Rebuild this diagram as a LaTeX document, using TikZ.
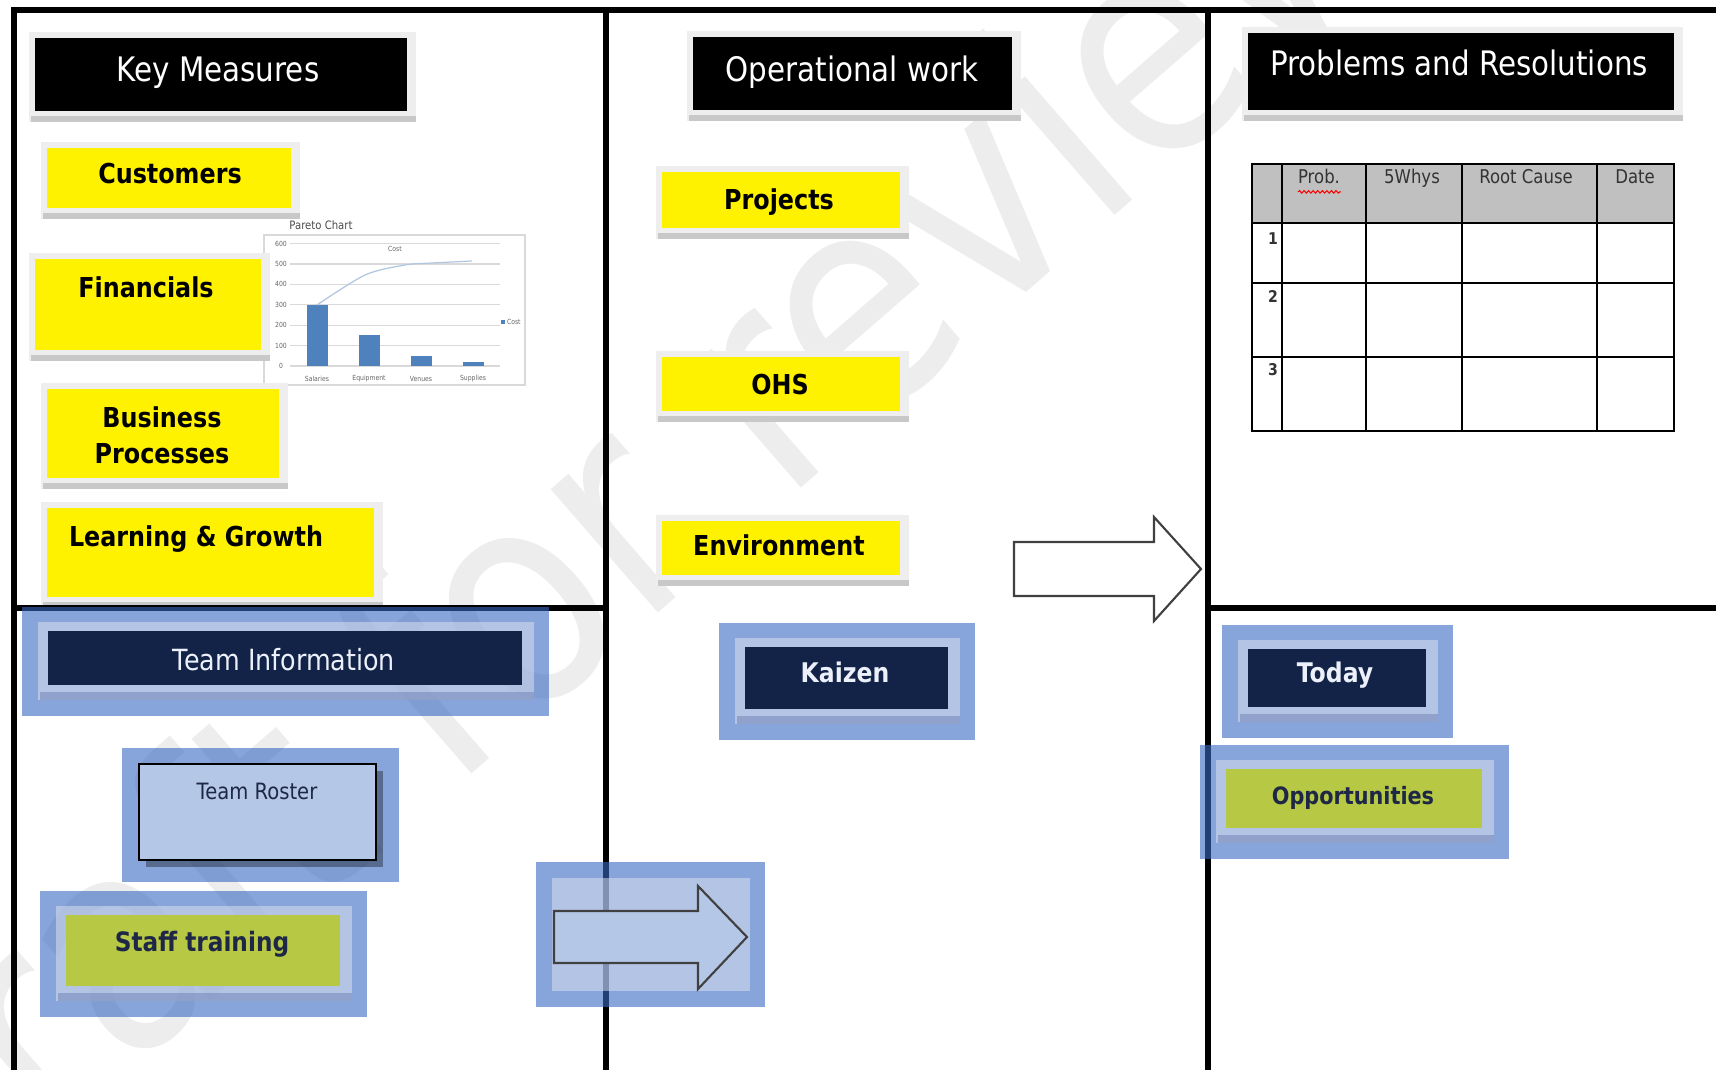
\documentclass[tikz,border=0pt]{standalone}
\usepackage{fontspec}
\setmainfont{DejaVu Sans}[FakeStretch=0.87]
\usetikzlibrary{calc,fit,backgrounds,decorations.pathmorphing}

\definecolor{navy}{RGB}{19,35,71}
\definecolor{leaf}{RGB}{182,200,68}
\definecolor{frameblue}{RGB}{55,105,195}
\definecolor{bevel}{RGB}{225,228,240}
\definecolor{bevelband}{RGB}{110,130,180}
\definecolor{rosterblue}{RGB}{180,199,231}
\definecolor{barblue}{RGB}{79,129,189}
\definecolor{headgray}{RGB}{192,192,192}
\definecolor{paper}{RGB}{238,238,238}
\definecolor{paperband}{RGB}{200,200,200}
\definecolor{inknavy}{RGB}{30,40,70}

\begin{document}
\begin{tikzpicture}[x=0.1mm,y=-0.1mm,
  every node/.style={inner sep=0pt,outer sep=0pt},
  blackbox/.style={fill=black},
  ybox/.style={fill=yellow},
  navybox/.style={fill=navy},
  leafbox/.style={fill=leaf},
  rosterbox/.style={fill=rosterblue,draw=black,line width=0.6pt},
  title/.style={text=white,font=\fontsize{9.6}{11}\selectfont,text height=7pt,text depth=0pt},
  ylab/.style={font=\fontsize{7.8}{9}\selectfont\bfseries,text height=5.7pt,text depth=0pt},
  navylab/.style={text={rgb,255:red,235;green,240;blue,250},font=\fontsize{8.3}{10}\selectfont,text height=6pt,text depth=0pt},
  navybold/.style={text={rgb,255:red,235;green,240;blue,250},font=\fontsize{7.7}{9}\selectfont\bfseries,text height=5.6pt,text depth=0pt},
  leaflab/.style={text=inknavy,font=\fontsize{7.6}{9}\selectfont\bfseries,text height=5.5pt,text depth=0pt},
  rosterlab/.style={text=inknavy,font=\fontsize{6.4}{8}\selectfont,text height=4.7pt,text depth=0pt},
  thead/.style={text=black!80,font=\fontsize{5.4}{6}\selectfont,text height=3.9pt,text depth=0pt},
  rownum/.style={text=black!80,font=\fontsize{4.6}{5}\selectfont\bfseries,text height=3.3pt,text depth=0pt},
  tick/.style={text=black!60,font=\fontsize{2}{2.4}\selectfont},
  grid/.style={line width=1.45pt,line cap=rect},
  tableline/.style={line width=0.7pt},
  chartgrid/.style={draw=black!15,line width=0.3pt},
  paperframe/.style={fill=paper},
  paperbottom/.style={fill=paperband},
  blueframe/.style={fill=frameblue,fill opacity=0.6},
  bevelframe/.style={fill=bevel,fill opacity=0.5},
  bevelbottom/.style={fill=bevelband,fill opacity=0.5},
  blockarrow/.style={draw=black!75,line width=0.6pt,line join=miter},
  watermark/.style={text=black!7,font=\fontsize{85}{90}\selectfont}]

\useasboundingbox (0,0) rectangle (1716,1069);

\node[blackbox, fit={(35,38) (407,111)}] (km) {};
\node[title] (kmlab) at (218,69) {Key Measures};
\node[blackbox, fit={(693,37) (1012,110)}] (ow) {};
\node[title] (owlab) at (852,69) {Operational work};
\node[blackbox, fit={(1248,33) (1674,110)}] (pr) {};
\node[title] (prlab) at (1459,63) {Problems and Resolutions};

\node[ybox, fit={(47,148) (291,208)}] (cust) {};
\node[ylab] (custlab) at (170,173) {Customers};
\node[ybox, fit={(35,259) (261,350)}] (fin) {};
\node[ylab] (finlab) at (146,287) {Financials};
\node[ybox, fit={(47,389) (279,478)}] (bus) {};
\node[ylab] (buslab) at (162,417) {Business};
\node[ylab] (proclab) at (162,453) {Processes};
\node[ybox, fit={(47,508) (374,597)}] (lg) {};
\node[ylab] (lglab) at (196,536) {Learning \& Growth};

\node[ybox, fit={(662,172) (900,228)}] (proj) {};
\node[ylab] (projlab) at (779,199) {Projects};
\node[ybox, fit={(662,357) (900,411)}] (ohs) {};
\node[ylab] (ohslab) at (780,384) {OHS};
\node[ybox, fit={(662,521) (900,575)}] (env) {};
\node[ylab] (envlab) at (779,545) {Environment};

\node[navybox, fit={(48,631) (522,685)}] (ti) {};
\node[navylab] (tilab) at (284,660) {Team Information};
\node[navybox, fit={(745,647) (948,709)}] (kz) {};
\node[navybold] (kzlab) at (845,673) {Kaizen};
\node[navybox, fit={(1248,649) (1426,707)}] (td) {};
\node[navybold] (tdlab) at (1335,673) {Today};

\node[leafbox, fit={(1226,769) (1482,828)}] (opp) {};
\node[leaflab, font=\fontsize{6.8}{8}\selectfont\bfseries, text height=5pt] (opplab) at (1353,796) {Opportunities};
\node[leafbox, fit={(66,915) (340,986)}] (st) {};
\node[leaflab] (stlab) at (202,942) {Staff training};

\node[rosterbox, fit={(139,764) (376,860)}] (tr) {};
\node[rosterlab] (trlab) at (257,791) {Team Roster};

\fill[headgray] (1252,164) rectangle (1674,223);
\draw[tableline] (1252,164) rectangle (1674,431);
\foreach \x in {1282,1366,1462,1597}
  \draw[tableline] (\x,164) -- (\x,431);
\foreach \y in {223,283,357}
  \draw[tableline] (1252,\y) -- (1674,\y);
\node[thead] (hprob) at (1319,177) {Prob.};
\node[thead] (hwhy) at (1412,177) {5Whys};
\node[thead] (hroot) at (1526,177) {Root Cause};
\node[thead] (hdate) at (1635,177) {Date};
\draw[red,line width=0.3pt,decorate,decoration={snake,amplitude=0.35pt,segment length=1.3pt}] (hprob.south west) ++(0,8) -- ++(43,0);
\node[rownum] (rn1) at (1273,239) {1};
\node[rownum] (rn2) at (1273,297) {2};
\node[rownum] (rn3) at (1273,370) {3};

\draw[blockarrow,fill=white] (1014,542) -- (1154,542) -- (1154,517) -- (1201,569) -- (1154,621) -- (1154,596) -- (1014,596) -- cycle;
\draw[blockarrow,fill=rosterblue] (554,911) -- (698,911) -- (698,886) -- (747,937) -- (698,989) -- (698,963) -- (554,963) -- cycle;

\begin{scope}[on background layer]
\fill[white] (0,0) rectangle (1716,1069);
\node[watermark, rotate=41] (wm) at (590,524) {Draft for review};

\draw[draw=black!15,line width=0.3pt,fill=white] (264,235) rectangle (525,385);
\node[text=black!70,font=\fontsize{3.3}{4}\selectfont] (pareto) at (321,225) {Pareto Chart};
\foreach \v in {0,...,6} {
  \pgfmathsetmacro\yy{366-20.4*\v}
  \pgfmathtruncatemacro\val{100*\v}
  \draw[chartgrid] (290,\yy) -- (500,\yy);
  \node[tick] (ytick\v) at (281,\yy) {\val};
}
\foreach \x/\h in {307/300,359/150,411/50,463/22}
  \fill[barblue] (\x,366) rectangle ({\x+21},{366-0.204*\h});
\draw[barblue!45,line width=0.35pt] plot[smooth] coordinates {(317,305) (365,275) (405,265) (432,263) (472,261)};
\node[tick] (costtitle) at (395,249) {Cost};
\fill[barblue] (501,320) rectangle (505,324);
\node[tick,anchor=west] (legend) at (507,322) {Cost};
\foreach \x/\l [count=\i] in {317/Salaries,369/Equipment,421/Venues,473/Supplies}
  \node[tick] (xtick\i) at (\x,379) {\l};

\foreach \n in {km,ow,pr,cust,fin,bus,lg,proj,ohs,env} {
  \fill[paperframe] ($(\n.north west)+(-6,-6)$) rectangle ($(\n.south east)+(9,11)$);
  \fill[paperbottom] ($(\n.south west)+(-4,5)$) rectangle ($(\n.south east)+(9,11)$);
}

\draw[grid] (14,10) -- (1716,10);
\draw[grid] (14,10) -- (14,1069);
\draw[grid] (606,10) -- (606,1069);
\draw[grid] (1208,10) -- (1208,1069);
\draw[grid] (14,608) -- (606,608);
\draw[grid] (1208,608) -- (1716,608);

\foreach \n in {ti,kz,td,opp,st} {
  \fill[blueframe] ($(\n.north west)+(-26,-24)$) rectangle ($(\n.south east)+(27,31)$);
  \fill[bevelframe] ($(\n.north west)+(-10,-9)$) rectangle ($(\n.south east)+(12,15)$);
  \fill[bevelbottom] ($(\n.south west)+(-8,7)$) rectangle ($(\n.south east)+(12,15)$);
}
\fill[blueframe] ($(tr.north west)+(-17,-16)$) rectangle ($(tr.south east)+(23,22)$);
\fill[black,fill opacity=0.35] ($(tr.north west)+(7,7)$) rectangle ($(tr.south east)+(7,7)$);
\fill[blueframe] (536,862) rectangle (765,1007);
\fill[bevelframe] (552,878) rectangle (750,991);
\end{scope}
\end{tikzpicture}
\end{document}
